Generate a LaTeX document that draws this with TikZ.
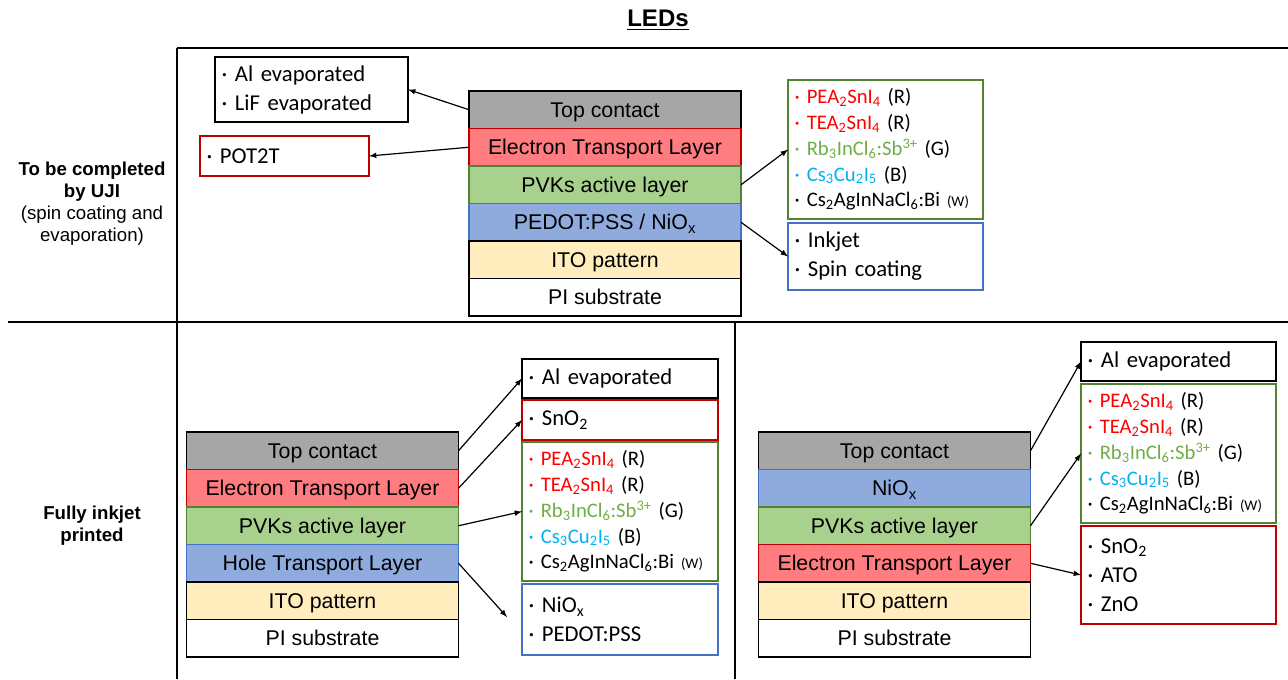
\documentclass[tikz,border=0pt]{standalone}
\usepackage{fontspec}
\setmainfont{Carlito}
\newfontfamily\arialfont{Liberation Sans}
\usetikzlibrary{positioning}

\definecolor{tcgray}{HTML}{A6A6A6}
\definecolor{etlred}{HTML}{FF7C80}
\definecolor{etlborder}{HTML}{C00000}
\definecolor{pvkgreen}{HTML}{A9D18E}
\definecolor{pvkborder}{HTML}{548235}
\definecolor{htlblue}{HTML}{8FAADC}
\definecolor{htlborder}{HTML}{4472C4}
\definecolor{itoyellow}{HTML}{FFEDBE}
\definecolor{chemred}{HTML}{FF0000}
\definecolor{chemgreen}{HTML}{70AD47}
\definecolor{chemcyan}{HTML}{00B0F0}

\newcommand{\pvklist}{%
{\color{chemred}· PEA\textsubscript{2}SnI\textsubscript{4}} (R)\\
{\color{chemred}· TEA\textsubscript{2}SnI\textsubscript{4}} (R)\\
{\color{chemgreen}· Rb\textsubscript{3}InCl\textsubscript{6}:Sb\textsuperscript{3+}} (G)\\
{\color{chemcyan}· Cs\textsubscript{3}Cu\textsubscript{2}I\textsubscript{5}} (B)\\
· Cs\textsubscript{2}AgInNaCl\textsubscript{6}:Bi {\fontsize{11}{12}\selectfont (W)}}

\begin{document}
\begin{tikzpicture}[x=0.75pt,y=-0.75pt,
    layer/.style={draw, line width=1.1pt, outer sep=0pt, inner sep=0pt,
      minimum width=204pt, minimum height=28.125pt, text height=11.3pt, text depth=0pt,
      font=\arialfont\fontsize{16}{18}\selectfont},
    listbox/.style={draw=#1, line width=1.1pt, anchor=north west, outer sep=0pt,
      inner xsep=5pt, inner ysep=0pt, align=left,
      font=\fontsize{17}{21.75}\selectfont},
    pvkbox/.style={listbox=pvkborder, font=\fontsize{15.5}{19.3}\selectfont},
    sidelabel/.style={align=center, font=\arialfont\fontsize{14}{16.5}\selectfont},
    arr/.style={->, >=latex, line width=0.9pt},
    sep/.style={line width=1.5pt}]
  \useasboundingbox (0,0) rectangle (1288,679);

  \node[font=\arialfont\bfseries\fontsize{18}{20}\selectfont] (title) at (658,20) {\underline{LEDs}};
  \draw[sep] (177,48) -- (1288,48);
  \draw[sep] (8,322) -- (1288,322);
  \draw[sep] (177,48) -- (177,679);
  \draw[sep] (735,322) -- (735,679);

  \node[sidelabel] (uji) at (92,204) {\textbf{To be completed}\\\textbf{by UJI}\\(spin coating and\\evaporation)};
  \node[sidelabel] (inkjet) at (92,526) {\textbf{Fully inkjet}\\\textbf{printed}};

  % UJI stack
  \node[layer, fill=tcgray] (tc1) at (605,109.75) {Top contact};
  \node[layer, fill=etlred, draw=etlborder, below=0pt of tc1] (etl1) {Electron Transport Layer};
  \node[layer, fill=pvkgreen, draw=pvkborder, below=0pt of etl1] (pvk1) {PVKs active layer};
  \node[layer, fill=htlblue, draw=htlborder, below=0pt of pvk1] (htl1) {PEDOT:PSS / NiO\textsubscript{x}};
  \node[layer, fill=itoyellow, below=0pt of htl1] (ito1) {ITO pattern};
  \node[layer, fill=white, below=0pt of ito1] (pi1) {PI substrate};

  \node[listbox=black, text width=134.75pt, minimum height=48.75pt] (al1) at (215,57) {· Al evaporated\\· LiF evaporated};
  \node[listbox=etlborder, text width=116.75pt, minimum height=30pt] (pot1) at (200,136) {· POT2T};
  \node[pvkbox, text width=136.25pt, minimum height=104.25pt] (pvkl1) at (788,80) {\pvklist};
  \node[listbox=htlborder, text width=136.25pt, minimum height=50.25pt] (dep1) at (788,223) {· Inkjet\\· Spin coating};

  \draw[arr] (tc1.west) -- (al1.east);
  \draw[arr] (etl1.west) -- (pot1.east);
  \draw[arr] (pvk1.east) -- (pvkl1.west);
  \draw[arr] (htl1.east) -- (dep1.west);

  % inkjet stack, normal
  \node[layer, fill=tcgray] (tc2) at (322.5,450.75) {Top contact};
  \node[layer, fill=etlred, draw=etlborder, below=0pt of tc2] (etl2) {Electron Transport Layer};
  \node[layer, fill=pvkgreen, draw=pvkborder, below=0pt of etl2] (pvk2) {PVKs active layer};
  \node[layer, fill=htlblue, draw=htlborder, below=0pt of pvk2] (htl2) {Hole Transport Layer};
  \node[layer, fill=itoyellow, below=0pt of htl2] (ito2) {ITO pattern};
  \node[layer, fill=white, below=0pt of ito2] (pi2) {PI substrate};

  \node[listbox=black, text width=137pt, minimum height=29.25pt] (al2) at (522,359) {· Al evaporated};
  \node[listbox=etlborder, text width=137pt, minimum height=30pt] (sno2) at (522,400) {· SnO\textsubscript{2}};
  \node[pvkbox, text width=137pt, minimum height=104.25pt] (pvkl2) at (522,442) {\pvklist};
  \node[listbox=htlborder, text width=137pt, minimum height=53.25pt] (htll2) at (522,584) {· NiO\textsubscript{x}\\· PEDOT:PSS};
  \coordinate (htlend2) at (507,617);

  \draw[arr] (tc2.east) -- (al2.west);
  \draw[arr] (etl2.east) -- (sno2.west);
  \draw[arr] (pvk2.east) -- (pvkl2.west);
  \draw[arr] (htl2.east) -- (htlend2);

  % inkjet stack, inverted
  \node[layer, fill=tcgray] (tc3) at (894.5,450.75) {Top contact};
  \node[layer, fill=htlblue, draw=htlborder, below=0pt of tc3] (htl3) {NiO\textsubscript{x}};
  \node[layer, fill=pvkgreen, draw=pvkborder, below=0pt of htl3] (pvk3) {PVKs active layer};
  \node[layer, fill=etlred, draw=etlborder, below=0pt of pvk3] (etl3) {Electron Transport Layer};
  \node[layer, fill=itoyellow, below=0pt of etl3] (ito3) {ITO pattern};
  \node[layer, fill=white, below=0pt of ito3] (pi3) {PI substrate};

  \node[listbox=black, text width=136.25pt, minimum height=29.25pt] (al3) at (1081,342) {· Al evaporated};
  \node[pvkbox, text width=136.25pt, minimum height=104.25pt] (pvkl3) at (1081,384) {\pvklist};
  \node[listbox=etlborder, text width=136.25pt, minimum height=73.5pt] (etll3) at (1081,526) {· SnO\textsubscript{2}\\· ATO\\· ZnO};

  \draw[arr] (tc3.east) -- (al3.west);
  \draw[arr] (pvk3.east) -- (pvkl3.west);
  \draw[arr] (etl3.east) -- (etll3.west);
\end{tikzpicture}
\end{document}
